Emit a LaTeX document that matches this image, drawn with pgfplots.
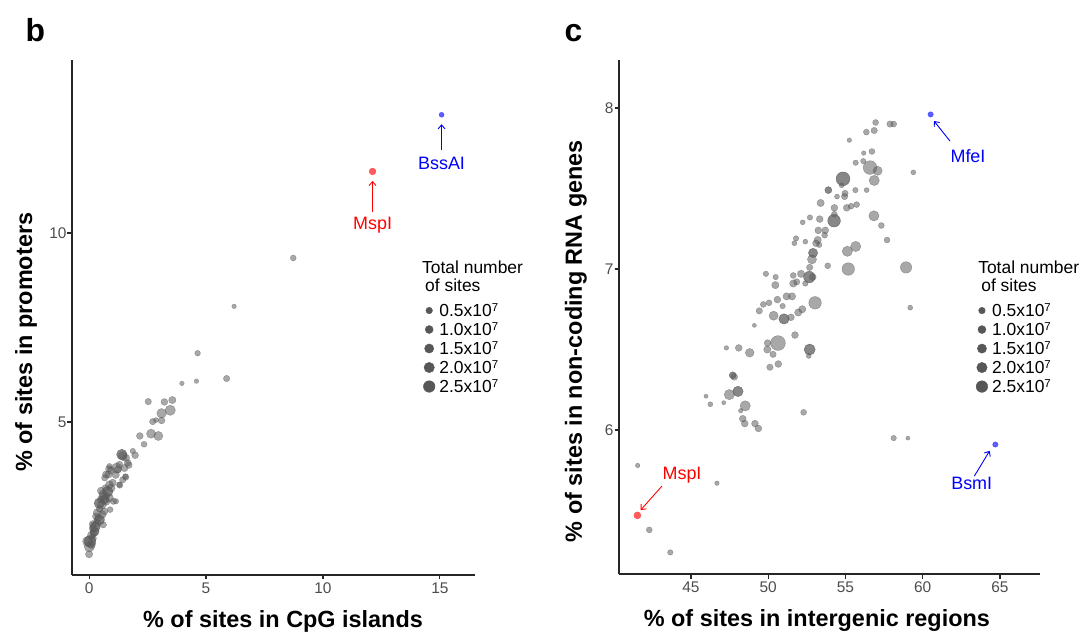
\documentclass[border=0pt]{standalone}
\usepackage{fontspec}
\setmainfont{Liberation Sans}
\usepackage{pgfplots}
\usepackage{pgfplotstable}
\pgfplotsset{compat=1.18}
\usetikzlibrary{arrows.meta}

\definecolor{tickgray}{HTML}{4D4D4D}
\definecolor{ptgray}{HTML}{5A5A5A}
\definecolor{legdot}{HTML}{575757}
\definecolor{redpt}{HTML}{FF4040}
\definecolor{bluept}{HTML}{4040FF}

\newcommand{\expsup}[1]{\raisebox{5bp}{\fontsize{11.5}{11.5}\selectfont #1}}

% left panel: x = % in CpG islands, y = % in promoters, r = marker radius (bp)
\pgfplotstableread{
x y r
8.73 9.34 2.6
6.20 8.06 2.0
4.64 6.82 2.5
5.88 6.15 2.8
3.97 6.02 2.0
4.59 6.08 2.0
2.53 5.54 2.8
3.22 5.53 3.0
3.56 5.58 3.2
3.10 5.23 4.2
3.47 5.31 4.5
2.72 5.01 2.8
2.86 5.05 2.2
3.10 5.04 3.0
2.65 4.69 4.0
2.96 4.63 4.0
2.17 4.63 3.0
2.35 4.41 2.6
1.87 4.23 2.4
1.97 4.12 3.0
1.40 4.14 4.5
1.44 4.10 4.0
1.58 4.05 3.2
1.65 3.92 3.0
1.70 3.86 3.0
1.51 3.78 3.2
1.18 3.78 4.5
0.85 3.76 3.0
0.83 3.61 3.2
0.67 3.52 2.8
1.14 3.60 3.2
1.57 3.54 2.8
1.44 3.47 2.8
1.31 3.33 2.8
0.87 3.83 2.4
1.30 3.87 3.0
1.23 3.74 3.2
0.94 3.72 3.2
0.73 3.61 3.2
1.55 3.56 2.4
1.01 3.39 3.2
0.87 3.34 3.5
1.30 3.34 2.4
0.94 3.25 3.5
0.51 3.18 3.2
0.80 3.16 4.5
0.58 3.03 3.5
0.87 2.99 3.5
0.73 2.90 3.5
1.15 2.90 2.4
0.44 2.85 4.5
0.54 2.81 4.0
1.04 2.90 2.8
0.90 2.68 2.6
0.65 2.63 3.2
0.56 2.55 3.5
0.30 2.50 3.2
0.44 2.41 4.5
0.33 2.32 3.5
0.40 2.45 3.0
0.61 2.28 2.8
0.26 2.23 4.5
0.16 2.19 3.2
0.23 2.10 4.0
0.16 1.92 3.2
0.04 1.84 5.0
-0.06 1.84 4.5
0.01 1.70 4.5
0.10 1.75 3.5
0.00 1.50 3.2
0.60 3.10 3.5
0.70 3.25 3.0
0.45 2.70 3.0
0.35 2.60 3.5
0.65 2.95 4.0
0.50 2.95 3.0
0.75 3.05 3.0
0.20 2.05 3.0
0.10 2.00 3.5
0.15 2.30 3.0
}\leftdata

% overlapping (identical) points in the left panel, drawn a second time
\pgfplotstableread{
x y r
1.40 4.14 4.5
0.80 3.16 4.5
0.44 2.85 4.5
0.26 2.23 4.5
0.04 1.84 5.0
0.44 2.41 4.5
0.65 2.95 4.0
0.23 2.10 4.0
}\leftdark

% right panel: x = % in intergenic regions, y = % in non-coding RNA genes
\pgfplotstableread{
x y r
56.95 7.91 2.6
57.88 7.90 2.8
58.12 7.90 2.6
56.35 7.85 2.6
56.86 7.86 2.8
55.25 7.80 2.0
56.18 7.72 2.0
56.71 7.73 2.6
55.66 7.66 2.4
56.15 7.67 2.4
56.59 7.63 6.0
57.08 7.61 4.0
59.39 7.60 2.2
54.84 7.56 6.0
56.86 7.55 4.5
54.75 7.52 2.2
53.89 7.49 3.0
54.97 7.47 2.8
54.94 7.45 2.8
54.45 7.45 2.2
55.64 7.49 2.4
56.37 7.49 2.2
53.39 7.41 3.2
54.28 7.38 3.0
55.08 7.38 3.0
55.36 7.39 2.6
55.72 7.40 2.6
54.28 7.34 2.6
56.84 7.33 4.5
53.33 7.31 3.0
52.70 7.32 2.4
52.23 7.29 2.2
54.26 7.30 5.5
57.32 7.27 2.6
57.69 7.18 2.6
53.24 7.24 3.0
53.69 7.24 3.0
53.65 7.21 2.6
51.80 7.19 2.4
51.69 7.16 2.2
52.40 7.17 2.2
53.20 7.18 3.2
53.09 7.16 3.0
53.30 7.15 2.4
55.12 7.11 4.5
55.66 7.14 4.5
52.90 7.10 4.0
52.83 7.06 4.0
58.92 7.01 5.0
55.18 7.00 5.5
53.85 7.02 2.6
52.68 7.01 2.8
49.85 6.97 2.4
50.48 6.95 2.4
50.46 6.90 3.2
51.62 6.96 2.6
52.12 6.97 3.2
52.66 6.95 5.0
52.88 6.95 3.0
51.84 6.92 2.8
51.62 6.91 3.2
52.40 6.91 2.4
51.19 6.83 3.2
51.54 6.83 3.2
50.59 6.81 3.0
53.03 6.79 5.5
59.19 6.76 2.2
50.05 6.79 2.6
49.68 6.78 2.6
49.42 6.74 2.8
50.93 6.77 2.4
50.35 6.71 4.0
51.02 6.69 4.5
51.47 6.70 3.0
51.94 6.73 3.2
52.20 6.75 3.2
49.10 6.65 1.8
51.73 6.59 3.0
50.63 6.54 6.5
49.96 6.54 3.0
49.94 6.50 3.2
50.31 6.47 2.8
52.68 6.50 4.8
52.62 6.46 2.2
47.29 6.51 2.0
48.09 6.51 3.0
48.80 6.48 3.8
50.11 6.39 2.8
50.65 6.41 3.0
47.70 6.34 3.0
47.80 6.33 3.0
47.48 6.22 4.5
48.04 6.24 4.5
45.97 6.21 1.8
46.25 6.16 2.2
47.12 6.17 1.8
48.51 6.15 4.5
48.22 6.12 2.0
48.35 6.07 3.0
48.48 6.04 3.0
49.14 6.04 3.0
49.36 6.01 3.0
52.29 6.11 2.6
58.12 5.95 2.4
59.04 5.95 1.8
41.55 5.78 2.0
42.30 5.38 2.6
43.66 5.24 2.4
46.68 5.67 2.0
}\rightdata

\pgfplotstableread{
x y r
54.84 7.56 6.0
54.26 7.30 5.5
52.90 7.10 4.0
52.66 6.95 5.0
51.02 6.69 4.5
52.68 6.50 4.8
48.04 6.24 4.5
47.70 6.34 3.0
53.89 7.49 3.0
}\rightdark

\pgfplotsset{
  panel/.style={
    scale only axis,
    axis lines*=left,
    axis line style={-, black!85, line width=1.1bp},
    major tick style={black!85, line width=1.1bp},
    tick align=outside,
    major tick length=4.5bp,
    minor tick num=0,
    tick label style={font=\fontsize{15.5}{15.5}\selectfont, text=tickgray},
    yticklabel style={xshift=2.5bp},
    /pgf/number format/assume math mode=true,
    label style={font=\bfseries\fontsize{23.5}{23.5}\selectfont, text=black},
    clip=false,
    legend style={draw=none, fill=none, inner sep=0pt, outer sep=0pt,
      font=\fontsize{17.5}{17.5}\selectfont, row sep=0bp, column sep=3bp,
      nodes={inner sep=0bp, text height=15.5bp, text depth=3.5bp},
      legend cell align=left},
  },
  bub/.style={only marks, mark=*, scatter, forget plot,
    visualization depends on={\thisrow{r}\as\rr},
    scatter/use mapped color={draw=ptgray, fill=ptgray, opacity=0.53},
    scatter/@pre marker code/.append style={/tikz/mark size={1.15*\rr}},
  },
  bubdark/.style={only marks, mark=*, scatter, forget plot,
    visualization depends on={\thisrow{r}\as\rr},
    scatter/use mapped color={draw=ptgray, fill=ptgray, opacity=0.42},
    scatter/@pre marker code/.append style={/tikz/mark size={1.15*\rr}},
  },
  legimg/.style={legend image code/.code={%
      \path (-7bp,0bp) (7bp,0bp);
      \fill[legdot] (0bp,0bp) circle (#1);}},
}

\begin{document}
\begin{tikzpicture}
\useasboundingbox (0,0) rectangle (1086bp,632bp);

\node[anchor=base west, font=\bfseries\fontsize{32}{32}\selectfont] at (22bp,590bp) {b};
\node[anchor=base west, font=\bfseries\fontsize{32}{32}\selectfont] at (561bp,590bp) {c};

% ---------------- left panel ----------------
\begin{axis}[panel,
  at={(72bp,57bp)}, anchor=south west,
  width=403bp, height=515bp,
  xmin=-0.73, xmax=16.5, ymin=0.95, ymax=14.58,
  xtick={0,5,10,15}, ytick={5,10},
  xlabel={\% of sites in CpG islands},
  ylabel={\% of sites in promoters},
  xlabel style={at={(axis description cs:0.5236,-0.101)}, anchor=base},
  ylabel style={at={(axis description cs:-0.099,0.452)}, anchor=base},
  legend style={at={(axis description cs:0.8685,0.5320)}, anchor=north west},
]
\addplot[bub] table[x=x,y=y]{\leftdata};
\addplot[bubdark] table[x=x,y=y]{\leftdark};
\addplot[forget plot, only marks, mark=*, mark size=3.4bp, mark options={draw=redpt, fill=redpt, opacity=0.85}] coordinates {(12.12,11.63)};
\addplot[forget plot, only marks, mark=*, mark size=2.5bp, mark options={draw=bluept, fill=bluept, opacity=0.85}] coordinates {(15.07,13.13)};

\addlegendimage{legimg=3.3bp}\addlegendentry{0.5x10\expsup{7}}
\addlegendimage{legimg=4.0bp}\addlegendentry{1.0x10\expsup{7}}
\addlegendimage{legimg=4.6bp}\addlegendentry{1.5x10\expsup{7}}
\addlegendimage{legimg=5.2bp}\addlegendentry{2.0x10\expsup{7}}
\addlegendimage{legimg=5.8bp}\addlegendentry{2.5x10\expsup{7}}

\node[anchor=north west, align=left, inner sep=0pt, font=\fontsize{17.5}{18}\selectfont]
  at (axis description cs:0.8685,0.6097) {Total number\\\hspace*{3bp}of sites};

\draw[red, line width=0.9bp, -{Straight Barb[length=4bp,width=7bp]}] (axis cs:12.12,10.56) -- (axis cs:12.12,11.38);
\node[red, font=\fontsize{18}{18}\selectfont] at (axis cs:12.12,10.21) {MspI};
\draw[blue, line width=0.9bp, -{Straight Barb[length=4bp,width=7bp]}] (axis cs:15.07,12.20) -- (axis cs:15.07,12.88);
\node[blue, font=\fontsize{18}{18}\selectfont] at (axis cs:15.07,11.85) {BssAI};
\end{axis}

% ---------------- right panel ----------------
\begin{axis}[panel,
  at={(619bp,58bp)}, anchor=south west,
  width=421bp, height=514bp,
  xmin=40.34, xmax=67.59, ymin=5.106, ymax=8.298,
  xtick={45,50,55,60,65}, ytick={6,7,8},
  xlabel={\% of sites in intergenic regions},
  ylabel={\% of sites in non-coding RNA genes},
  xlabel style={at={(axis description cs:0.470,-0.1031)}, anchor=base},
  ylabel style={at={(axis description cs:-0.0879,0.453)}, anchor=base},
  legend style={at={(axis description cs:0.845,0.5310)}, anchor=north west},
]
\addplot[bub] table[x=x,y=y]{\rightdata};
\addplot[bubdark] table[x=x,y=y]{\rightdark};
\addplot[forget plot, only marks, mark=*, mark size=3.5bp, mark options={draw=redpt, fill=redpt, opacity=0.85}] coordinates {(41.53,5.47)};
\addplot[forget plot, only marks, mark=*, mark size=2.7bp, mark options={draw=bluept, fill=bluept, opacity=0.85}] coordinates {(60.51,7.96) (64.70,5.91)};

\addlegendimage{legimg=3.3bp}\addlegendentry{0.5x10\expsup{7}}
\addlegendimage{legimg=4.0bp}\addlegendentry{1.0x10\expsup{7}}
\addlegendimage{legimg=4.6bp}\addlegendentry{1.5x10\expsup{7}}
\addlegendimage{legimg=5.2bp}\addlegendentry{2.0x10\expsup{7}}
\addlegendimage{legimg=5.8bp}\addlegendentry{2.5x10\expsup{7}}

\node[anchor=north west, align=left, inner sep=0pt, font=\fontsize{17.5}{18}\selectfont]
  at (axis description cs:0.853,0.609) {Total number\\\hspace*{3bp}of sites};

\draw[blue, line width=0.9bp, -{Straight Barb[length=4bp,width=7bp]}] (axis cs:61.76,7.795) -- (axis cs:60.73,7.919);
\node[blue, font=\fontsize{18}{18}\selectfont] at (axis cs:62.93,7.70) {MfeI};
\draw[red, line width=0.9bp, -{Straight Barb[length=4bp,width=7bp]}] (axis cs:43.12,5.652) -- (axis cs:41.74,5.503);
\node[red, font=\fontsize{18}{18}\selectfont] at (axis cs:44.42,5.72) {MspI};
\draw[blue, line width=0.9bp, -{Straight Barb[length=4bp,width=7bp]}] (axis cs:63.34,5.714) -- (axis cs:64.33,5.871);
\node[blue, font=\fontsize{18}{18}\selectfont] at (axis cs:63.17,5.669) {BsmI};
\end{axis}
\end{tikzpicture}
\end{document}
